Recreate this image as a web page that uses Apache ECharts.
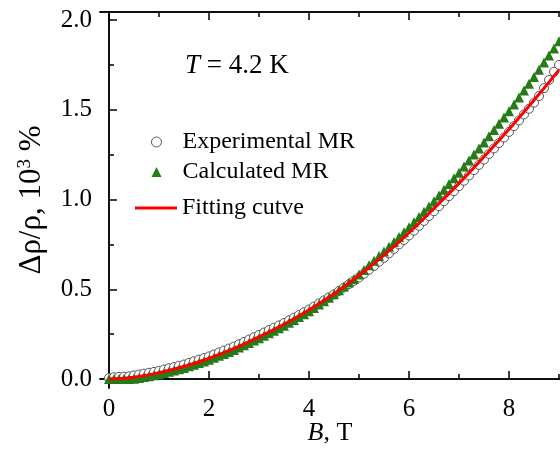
<!DOCTYPE html>
<html>
<head>
<meta charset="utf-8">
<script src="https://cdn.jsdelivr.net/npm/echarts@6/dist/echarts.min.js"></script>
<style>html,body{margin:0;padding:0;background:#fff;}#c{width:560px;height:450px;}</style>
</head>
<body>
<div id="c"></div>
<script>
// Magnetic field B (T)
const fieldB = [0.0,0.1,0.2,0.3,0.4,0.5,0.6,0.7,0.8,0.9,1.0,1.1,1.2,1.3,1.4,1.5,1.6,1.7,1.8,1.9,2.0,2.1,2.2,2.3,2.4,2.5,2.6,2.7,2.8,2.9,3.0,3.1,3.2,3.3,3.4,3.5,3.6,3.7,3.8,3.9,4.0,4.1,4.2,4.3,4.4,4.5,4.6,4.7,4.8,4.9,5.0,5.1,5.2,5.3,5.4,5.5,5.6,5.7,5.8,5.9,6.0,6.1,6.2,6.3,6.4,6.5,6.6,6.7,6.8,6.9,7.0,7.1,7.2,7.3,7.4,7.5,7.6,7.7,7.8,7.9,8.0,8.1,8.2,8.3,8.4,8.5,8.6,8.7,8.8,8.9,9.0];
// Experimental MR (10^3 %)
const experimentalMR = [0.005,0.010,0.012,0.013,0.015,0.020,0.025,0.030,0.035,0.040,0.046,0.053,0.060,0.067,0.074,0.081,0.090,0.099,0.108,0.117,0.126,0.137,0.148,0.159,0.170,0.181,0.194,0.207,0.220,0.233,0.246,0.259,0.273,0.286,0.299,0.312,0.327,0.342,0.357,0.372,0.387,0.404,0.421,0.438,0.455,0.472,0.491,0.510,0.529,0.547,0.566,0.587,0.609,0.630,0.653,0.675,0.700,0.725,0.750,0.775,0.800,0.827,0.854,0.881,0.908,0.935,0.963,0.991,1.019,1.047,1.075,1.105,1.134,1.164,1.193,1.223,1.254,1.285,1.315,1.346,1.377,1.409,1.441,1.474,1.506,1.540,1.577,1.621,1.666,1.712,1.750];
// Calculated MR (10^3 %)
const calculatedMR = [0.000,0.000,0.000,0.000,0.000,0.002,0.006,0.011,0.016,0.021,0.027,0.034,0.041,0.048,0.055,0.062,0.071,0.080,0.089,0.098,0.107,0.118,0.129,0.140,0.151,0.162,0.175,0.188,0.201,0.214,0.227,0.241,0.255,0.269,0.283,0.297,0.313,0.329,0.345,0.361,0.378,0.396,0.415,0.434,0.453,0.473,0.495,0.516,0.538,0.558,0.583,0.608,0.634,0.659,0.685,0.710,0.737,0.764,0.791,0.818,0.845,0.874,0.903,0.932,0.961,0.990,1.022,1.054,1.086,1.118,1.150,1.184,1.217,1.251,1.284,1.318,1.353,1.388,1.422,1.457,1.492,1.530,1.568,1.607,1.645,1.683,1.723,1.763,1.802,1.842,1.882];
// Fitting curve
const fitB = [0,0.5,1,1.5,2,2.5,3,3.5,4,4.5,5,5.5,6,6.5,7,7.5,8,8.5,9];
const fitMR = [0,0.010,0.035,0.070,0.115,0.170,0.235,0.305,0.385,0.475,0.578,0.690,0.815,0.950,1.090,1.238,1.392,1.553,1.722];
// Ticks
const xMajor = [0,2,4,6,8];
const xMinor = [1,3,5,7,9];
const yMajor = [0,0.5,1.0,1.5,2.0];
const yMinor = [0.25,0.75,1.25,1.75];

const FONT = 'Liberation Serif';
const chart = echarts.init(document.getElementById('c'));
const axisLine = {show:true, lineStyle:{color:'#000', width:1.5}};
function xAx(pos, ticks, len, labels, extra) {
  return Object.assign({
    type:'value', gridIndex:0, position:pos, min:-0.18, max:9.02,
    axisLine: axisLine,
    axisTick:{show:true, inside:true, length:len, customValues:ticks, lineStyle:{color:'#000', width:1.5}},
    axisLabel: labels ? {show:true, customValues:ticks, color:'#000', fontFamily:FONT, fontSize:25, margin:9} : {show:false},
    splitLine:{show:false}
  }, extra||{});
}
function yAx(ticks, len, labels, extra) {
  return Object.assign({
    type:'value', gridIndex:0, position:'left', min:-0.05, max:2.045,
    axisLine: axisLine,
    axisTick:{show:true, inside:true, length:len, customValues:ticks, lineStyle:{color:'#000', width:1.5}},
    axisLabel: labels ? {show:true, customValues:ticks, color:'#000', fontFamily:FONT, fontSize:25, margin:8,
      formatter:v=>v.toFixed(1)} : {show:false},
    splitLine:{show:false}
  }, extra||{});
}
const option = {
  backgroundColor:'#fff',
  animation:false,
  grid:{left:100, right:0, top:12, bottom:62, containLabel:false, outerBoundsMode:'none'},
  xAxis:[
    xAx('bottom', xMajor, 8, true, {
      name:'{i|B}, T', nameLocation:'middle', nameGap:32, nameMoveOverlap:false,
      nameTextStyle:{color:'#000', fontFamily:FONT, fontSize:26, rich:{i:{fontStyle:'italic', fontFamily:FONT, fontSize:26, color:'#000'}}}
    }),
    xAx('bottom', xMinor, 5, false),
    xAx('top', xMajor, 8, false),
    xAx('top', xMinor, 5, false)
  ],
  yAxis:[
    yAx(yMajor, 8, true, {
      name:'Δρ/ρ, 10{s|3} %', nameLocation:'middle', nameGap:52, nameRotate:90, nameMoveOverlap:false,
      nameTextStyle:{color:'#000', fontFamily:FONT, fontSize:31,
        rich:{s:{fontSize:19, fontFamily:FONT, color:'#000', padding:[0,0,13,0]}}}
    }),
    yAx(yMinor, 5, false)
  ],
  legend:[
    {data:[{name:'Experimental MR', itemStyle:{borderWidth:1}}, {name:'Calculated MR'}], orient:'vertical', left:151, top:130, padding:0,
     itemWidth:10, itemHeight:10, itemGap:6,
     textStyle:{color:'#000', fontFamily:FONT, fontSize:24, lineHeight:24, padding:[0,0,0,16]}},
    {data:['Fitting cutve'], orient:'vertical', left:135, top:196, padding:0, icon:'rect',
     itemWidth:42, itemHeight:3,
     textStyle:{color:'#000', fontFamily:FONT, fontSize:24, lineHeight:24}}
  ],
  graphic:[{
    type:'text', left:185, top:52,
    style:{text:'{i|T} = 4.2 K', fontFamily:FONT, fontSize:27, fill:'#000',
      rich:{i:{fontStyle:'italic', fontFamily:FONT, fontSize:27, fill:'#000'}}}
  }],
  series:[
    {name:'Experimental MR', type:'scatter', symbol:'circle', symbolSize:9,
     itemStyle:{color:'#fff', borderColor:'#555', borderWidth:1, opacity:1},
     data: fieldB.map((b,i)=>[b, experimentalMR[i]])},
    {name:'Calculated MR', type:'scatter', symbol:'triangle', symbolSize:10,
     itemStyle:{color:'#267a18', opacity:1},
     data: fieldB.map((b,i)=>[b, calculatedMR[i]])},
    {name:'Fitting cutve', type:'line', symbol:'none', smooth:true,
     lineStyle:{color:'#ff0000', width:3}, itemStyle:{color:'#ff0000'},
     data: fitB.map((b,i)=>[b, fitMR[i]])}
  ]
};
chart.setOption(option);
</script>
</body>
</html>
